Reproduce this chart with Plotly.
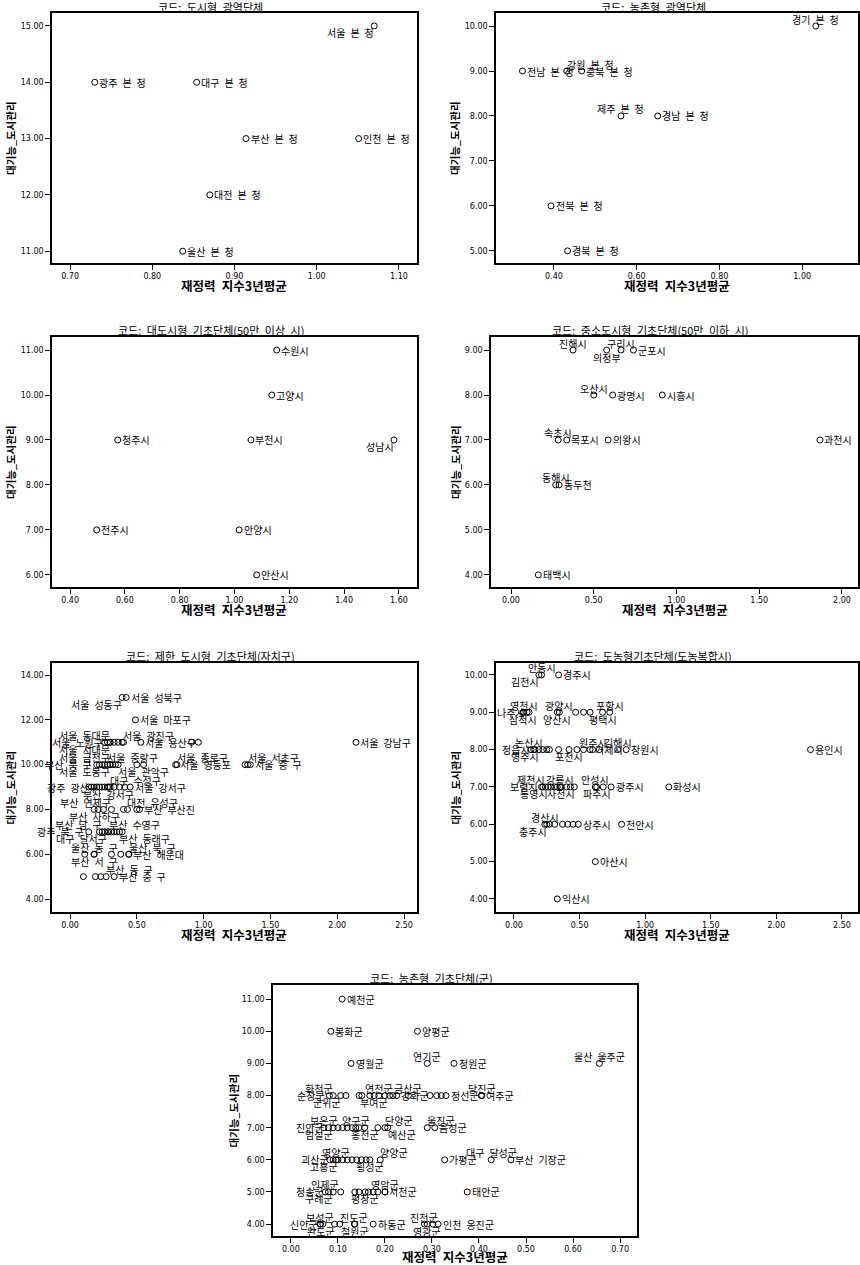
import plotly.graph_objects as go

W, H = 860, 1265

# ---------------- data: 재정력 지수3년평균 (x) vs 대기능_도시관리 (y) ----------------
# 도시형 광역단체
P1_X = [1.07, 0.73, 0.854, 0.914, 1.051, 0.870, 0.837]
P1_Y = [15, 14, 14, 13, 13, 12, 11]
P1_NAME = ["서울 본 청", "광주 본 청", "대구 본 청", "부산 본 청", "인천 본 청", "대전 본 청", "울산 본 청"]

# 농촌형 광역단체
P2_X = [1.033, 0.324, 0.431, 0.467, 0.562, 0.651, 0.393, 0.433]
P2_Y = [10, 9, 9, 9, 8, 8, 6, 5]
P2_NAME = ["경기 본 청", "전남 본 청", "강원 본 청", "충북 본 청", "제주 본 청", "경남 본 청", "전북 본 청", "경북 본 청"]

# 대도시형 기초단체(50만 이상 시)
P3_X = [1.154, 1.136, 0.574, 1.060, 1.582, 0.497, 1.017, 1.081]
P3_Y = [11, 10, 9, 9, 9, 7, 7, 6]
P3_NAME = ["수원시", "고양시", "청주시", "부천시", "성남시", "전주시", "안양시", "안산시"]

# 중소도시형 기초단체(50만 이하 시)
P4_X = [0.375, 0.578, 0.665, 0.74, 0.50, 0.614, 0.914, 0.285, 0.337, 0.587, 1.867, 0.27, 0.29, 0.165]
P4_Y = [9, 9, 9, 9, 8, 8, 8, 7, 7, 7, 7, 6, 6, 4]
P4_NAME = ["진해시", "의정부", "구리시", "군포시", "오산시", "광명시", "시흥시",
           "속초시", "목포시", "의왕시", "과천시", "동해시", "동두천", "태백시"]

# 제한 도시형 기초단체(자치구)
P5_X = [0.39, 0.42,
        0.49,
        0.26, 0.28, 0.30, 0.30, 0.33, 0.36, 0.39, 0.40, 0.53, 0.91, 0.96, 2.14,
        0.20, 0.22, 0.24, 0.26, 0.28, 0.30, 0.30, 0.32, 0.34, 0.36, 0.50, 0.55, 0.79, 0.80, 1.31, 1.33, 1.35,
        0.14, 0.16, 0.18, 0.20, 0.22, 0.24, 0.26, 0.28, 0.29, 0.30, 0.33, 0.37, 0.41, 0.45,
        0.18, 0.21, 0.25, 0.31, 0.40, 0.43, 0.50, 0.52,
        0.14, 0.22, 0.24, 0.26, 0.28, 0.29, 0.31, 0.33, 0.35, 0.37, 0.39,
        0.11, 0.18, 0.18, 0.31, 0.38, 0.44, 0.44,
        0.10, 0.19, 0.23, 0.27, 0.33]
P5_Y = [13, 13,
        12,
        11, 11, 11, 11, 11, 11, 11, 11, 11, 11, 11, 11,
        10, 10, 10, 10, 10, 10, 10, 10, 10, 10, 10, 10, 10, 10, 10, 10, 10,
        9, 9, 9, 9, 9, 9, 9, 9, 9, 9, 9, 9, 9, 9,
        8, 8, 8, 8, 8, 8, 8, 8,
        7, 7, 7, 7, 7, 7, 7, 7, 7, 7, 7,
        6, 6, 6, 6, 6, 6, 6,
        5, 5, 5, 5, 5]
P5_NAME = ["서울 성동구", "서울 성북구",
           "서울 마포구",
           "", "서울 노원구", "서울 동대문", "서울 서대문", "", "", "", "서울 광진구", "서울 용산구", "", "", "서울 강남구",
           "부산 북 구", "", "", "", "서울 중랑구", "서울 금천구", "서울 도봉구", "", "", "서울 관악구", "", "",
           "서울 영등포", "서울 종로구", "", "서울 서초구", "서울 중 구",
           "", "", "", "", "", "광주 광산구", "", "", "부산 강서구", "대구 수성구", "", "", "", "서울 강서구",
           "부산 사하구", "", "", "부산 연제구", "", "대전 유성구", "", "부산 부산진",
           "광주 북 구", "", "부산 남 구", "", "대구 달서구", "부산 수영구", "", "", "", "부산 동래구", "",
           "", "울산 동 구", "부산 서 구", "", "", "울산 북 구", "부산 해운대",
           "", "", "", "부산 동 구", "부산 중 구"]

# 도농형기초단체(도농복합시)
P6_X = [0.19, 0.21, 0.34,
        0.07, 0.075, 0.10, 0.115, 0.33, 0.345, 0.47, 0.53, 0.58, 0.675, 0.73,
        0.13, 0.15, 0.16, 0.19, 0.22, 0.25, 0.27, 0.34, 0.42, 0.48, 0.53, 0.58, 0.60, 0.65, 0.79, 0.855, 2.26,
        0.21, 0.22, 0.24, 0.26, 0.28, 0.31, 0.33, 0.35, 0.36, 0.40, 0.43, 0.46, 0.62, 0.63, 0.68, 0.74, 1.18,
        0.235, 0.25, 0.27, 0.31, 0.37, 0.41, 0.45, 0.49, 0.82,
        0.62,
        0.33]
P6_Y = [10, 10, 10,
        9, 9, 9, 9, 9, 9, 9, 9, 9, 9, 9,
        8, 8, 8, 8, 8, 8, 8, 8, 8, 8, 8, 8, 8, 8, 8, 8, 8,
        7, 7, 7, 7, 7, 7, 7, 7, 7, 7, 7, 7, 7, 7, 7, 7, 7,
        6, 6, 6, 6, 6, 6, 6, 6, 6,
        5,
        4]
P6_NAME = ["김천시", "안동시", "경주시",
           "삼척시", "영천시", "", "나주시", "양산시", "광양시", "", "", "", "평택시", "포항시",
           "", "", "정읍시", "영주시", "논산시", "", "", "", "포천시", "", "", "거제시", "원주시", "", "김해시", "창원시", "용인시",
           "", "보령시", "제천시", "통영시", "", "", "", "강릉시", "사천시", "", "", "", "안성시", "파주시", "", "광주시", "화성시",
           "경산시", "충주시", "", "", "", "", "", "상주시", "천안시",
           "아산시",
           "익산시"]

# 농촌형 기초단체(군)
P7_X = [0.109,
        0.085, 0.269,
        0.128, 0.29, 0.347, 0.656,
        0.082, 0.09, 0.106, 0.117, 0.145, 0.151, 0.168, 0.177, 0.187, 0.20, 0.21, 0.217, 0.225, 0.25,
        0.296, 0.31, 0.32, 0.33, 0.405, 0.406,
        0.07, 0.08, 0.09, 0.10, 0.11, 0.12, 0.13, 0.138, 0.145, 0.157, 0.185, 0.20, 0.206, 0.29, 0.306,
        0.083, 0.09, 0.096, 0.10, 0.11, 0.12, 0.13, 0.14, 0.15, 0.16, 0.168, 0.19, 0.327, 0.426, 0.468,
        0.073, 0.08, 0.09, 0.106, 0.136, 0.145, 0.158, 0.165, 0.175, 0.185, 0.20, 0.20, 0.375,
        0.062, 0.063, 0.068, 0.093, 0.104, 0.135, 0.136, 0.175, 0.284, 0.29, 0.302, 0.313]
P7_Y = [11,
        10, 10,
        9, 9, 9, 9,
        8, 8, 8, 8, 8, 8, 8, 8, 8, 8, 8, 8, 8, 8,
        8, 8, 8, 8, 8, 8,
        7, 7, 7, 7, 7, 7, 7, 7, 7, 7, 7, 7, 7, 7, 7,
        6, 6, 6, 6, 6, 6, 6, 6, 6, 6, 6, 6, 6, 6, 6,
        5, 5, 5, 5, 5, 5, 5, 5, 5, 5, 5, 5, 5,
        4, 4, 4, 4, 4, 4, 4, 4, 4, 4, 4, 4]
P7_NAME = ["예천군",
           "봉화군", "양평군",
           "영월군", "연기군", "청원군", "울산 울주군",
           "순창군", "화천군", "군위군", "", "", "", "", "부여군", "연천군", "", "", "", "강화군", "금산군",
           "", "", "", "정선군", "여주군", "당진군",
           "보은군", "진안군", "임실군", "", "", "", "", "양구군", "", "홍천군", "", "단양군", "예산군", "울진군", "음성군",
           "", "괴산군", "영양군", "고흥군", "", "", "", "", "", "", "횡성군", "양양군", "가평군", "대구 달성군", "부산 기장군",
           "인제군", "청송군", "구례군", "", "", "", "평창군", "", "", "", "영암군", "서천군", "태안군",
           "보성군", "완도군", "신안군", "", "", "진도군", "철원군", "하동군", "진천군", "영광군", "", "인천 옹진군"]

# ---------------- label placement around each marker ----------------
P1_POS = ["bl", "mr", "mr", "mr", "mr", "mr", "mr"]
P2_POS = ["tc", "mr", "tr", "mr", "tc", "mr", "mr", "mr"]
P3_POS = ["mr", "mr", "mr", "mr", "bl", "mr", "mr", "mr"]
P4_POS = ["tc", "bc", "tc", "mr", "tc", "mr", "mr", "tc", "mr", "mr", "mr", "tc", "mr", "mr"]
P5_POS = ["bl", "mr",
          "mr",
          "mr", "ml", "tl", "bl", "mr", "mr", "mr", "tr", "mr", "mr", "mr", "mr",
          "ml", "mr", "mr", "mr", "tr", "tl", "bl", "mr", "mr", "br", "mr", "mr", "mr", "tr", "mr", "tr", "mr",
          "mr", "mr", "mr", "mr", "mr", "ml", "mr", "mr", "bc", "tr", "mr", "mr", "mr", "mr",
          "bc", "mr", "mr", "tl", "mr", "tr", "mr", "mr",
          "ml", "mr", "tl", "mr", "bl", "tr", "mr", "mr", "mr", "br", "mr",
          "mr", "tc", "bc", "mr", "mr", "tr", "mr",
          "mr", "mr", "mr", "tr", "mr"]
P6_POS = ["bl", "tc", "mr",
          "bc", "tc", "mr", "ml", "bc", "tc", "mr", "mr", "mr", "bc", "tc",
          "mr", "mr", "ml", "bl", "tl", "mr", "mr", "mr", "bc", "mr", "mr", "mr", "tc", "mr", "tc", "mr", "mr",
          "mr", "ml", "tl", "bl", "mr", "mr", "mr", "tc", "bc", "mr", "mr", "mr", "tc", "bc", "mr", "mr", "mr",
          "tc", "bl", "mr", "mr", "mr", "mr", "mr", "mr", "mr",
          "mr",
          "mr"]
P7_POS = ["mr",
          "mr", "mr",
          "mr", "tc", "mr", "tc",
          "ml", "tl", "bl", "mr", "mr", "mr", "mr", "bc", "tc", "mr", "mr", "mr", "mr", "tc",
          "mr", "mr", "mr", "mr", "mr", "tc",
          "tc", "ml", "bl", "mr", "mr", "mr", "mr", "tc", "mr", "bc", "mr", "tr", "br", "tr", "mr",
          "mr", "ml", "tc", "bl", "mr", "mr", "mr", "mr", "mr", "mr", "bc", "tr", "mr", "tc", "mr",
          "tc", "ml", "bl", "mr", "mr", "mr", "bc", "mr", "mr", "mr", "tc", "mr", "mr",
          "tc", "bc", "ml", "mr", "mr", "tc", "bc", "mr", "tc", "bc", "mr", "mr"]

# anchor and pixel offset of a label for each placement code
LABEL_ANCHOR = {
    "mr": ("left", "middle", 3.5, 0), "ml": ("right", "middle", -3.5, 0),
    "tc": ("center", "middle", 0, 7), "bc": ("center", "middle", 0, -7),
    "tl": ("right", "middle", 1, 7), "tr": ("left", "middle", -1, 7),
    "bl": ("right", "middle", 1, -7), "br": ("left", "middle", -1, -7),
}

# ---------------- panel layout (pixel boxes, axis ranges, ticks) ----------------
PANELS = [
    dict(title="코드: 도시형 광역단체", x=P1_X, y=P1_Y, text=P1_NAME, pos=P1_POS,
         box=(52, 417, 13, 263), xr=(0.678, 1.122), yr=(10.79, 15.23),
         xt=[0.7, 0.8, 0.9, 1.0, 1.1], yt=[11, 12, 13, 14, 15], ytx=10),
    dict(title="코드: 농촌형 광역단체", x=P2_X, y=P2_Y, text=P2_NAME, pos=P2_POS,
         box=(496, 858, 13, 263), xr=(0.260, 1.135), yr=(4.73, 10.29),
         xt=[0.4, 0.6, 0.8, 1.0], yt=[5, 6, 7, 8, 9, 10], ytx=454),
    dict(title="코드: 대도시형 기초단체(50만 이상 시)", x=P3_X, y=P3_Y, text=P3_NAME, pos=P3_POS,
         box=(52, 417, 337, 587), xr=(0.334, 1.666), yr=(5.73, 11.29),
         xt=[0.4, 0.6, 0.8, 1.0, 1.2, 1.4, 1.6], yt=[6, 7, 8, 9, 10, 11], ytx=10),
    dict(title="코드: 중소도시형 기초단체(50만 이하 시)", x=P4_X, y=P4_Y, text=P4_NAME, pos=P4_POS,
         box=(491, 858, 337, 587), xr=(-0.121, 2.097), yr=(3.73, 9.29),
         xt=[0.0, 0.5, 1.0, 1.5, 2.0], yt=[4, 5, 6, 7, 8, 9], ytx=455),
    dict(title="코드: 제한 도시형 기초단체(자치구)", x=P5_X, y=P5_Y, text=P5_NAME, pos=P5_POS,
         box=(52, 417, 663, 912), xr=(-0.135, 2.597), yr=(3.42, 14.54),
         xt=[0.0, 0.5, 1.0, 1.5, 2.0, 2.5], yt=[4, 6, 8, 10, 12, 14], ytx=10),
    dict(title="코드: 도농형기초단체(도농복합시)", x=P6_X, y=P6_Y, text=P6_NAME, pos=P6_POS,
         box=(496, 858, 663, 912), xr=(-0.137, 2.622), yr=(3.65, 10.32),
         xt=[0.0, 0.5, 1.0, 1.5, 2.0, 2.5], yt=[4, 5, 6, 7, 8, 9, 10], ytx=455),
    dict(title="코드: 농촌형 기초단체(군)", x=P7_X, y=P7_Y, text=P7_NAME, pos=P7_POS,
         box=(273, 637, 985, 1236), xr=(-0.038, 0.736), yr=(3.63, 11.44),
         xt=[0.0, 0.1, 0.2, 0.3, 0.4, 0.5, 0.6, 0.7], yt=[4, 5, 6, 7, 8, 9, 10, 11], ytx=233),
]

KFONT = "Noto Sans CJK KR"
WIDE = "\u2002"   # half-em word gap, as in the bitmap Hangul face


def spaced(s):
    return s.replace(" ", WIDE)


fig = go.Figure()
layout = dict(width=W, height=H, autosize=False, margin=dict(l=0, r=0, t=0, b=0),
              paper_bgcolor="white", plot_bgcolor="white", showlegend=False)
annotations = []

for i, p in enumerate(PANELS):
    n = "" if i == 0 else str(i + 1)
    x0, x1, y0, y1 = p["box"]
    axis_common = dict(showline=True, mirror=True, linecolor="black", linewidth=1.5,
                       ticks="outside", ticklen=5, tickwidth=1, tickcolor="black",
                       tickfont=dict(family="DejaVu Sans", size=8, color="black"),
                       tickformat=".2f", showgrid=False, zeroline=False)
    layout["xaxis" + n] = dict(axis_common, domain=[x0 / W, x1 / W], range=list(p["xr"]),
                               tickvals=p["xt"], anchor="y" + n)
    layout["yaxis" + n] = dict(axis_common, domain=[1 - y1 / H, 1 - y0 / H], range=list(p["yr"]),
                               tickvals=p["yt"], anchor="x" + n)

    fig.add_trace(go.Scatter(
        x=p["x"], y=p["y"], mode="markers",
        marker=dict(symbol="circle-open", size=6, color="black", line=dict(width=1)),
        xaxis="x" + n, yaxis="y" + n, cliponaxis=False, hoverinfo="skip"))

    # case labels placed around their markers
    for xv, yv, name, code in zip(p["x"], p["y"], p["text"], p["pos"]):
        if not name:
            continue
        xa, ya, dx, dy = LABEL_ANCHOR[code]
        annotations.append(dict(text=spaced(name), x=xv, y=yv, xref="x" + n, yref="y" + n,
                                xanchor=xa, yanchor=ya, xshift=dx, yshift=dy,
                                showarrow=False, borderpad=0,
                                font=dict(family=KFONT, size=10, color="black")))

    # panel title
    ty = max(y0 - 7, 7.5)
    annotations.append(dict(text=spaced(p["title"]), xref="paper", yref="paper",
                            x=((x0 + x1) / 2 - 24) / W, y=1 - ty / H,
                            xanchor="center", yanchor="middle", showarrow=False, borderpad=0,
                            font=dict(family=KFONT, size=11, color="black")))
    # x-axis title
    xy = min(y1 + 22, H - 9)
    annotations.append(dict(text="<b>" + spaced("재정력 지수3년평균") + "</b>", xref="paper", yref="paper",
                            x=(x0 + x1) / 2 / W, y=1 - xy / H,
                            xanchor="center", yanchor="middle", showarrow=False, borderpad=0,
                            font=dict(family=KFONT, size=12.5, color="black")))
    # y-axis title
    annotations.append(dict(text="<b>대기능_도시관리</b>", xref="paper", yref="paper",
                            x=p["ytx"] / W, y=1 - (y0 + y1) / 2 / H, textangle=-90,
                            xanchor="center", yanchor="middle", showarrow=False, borderpad=0,
                            font=dict(family=KFONT, size=10.5, color="black")))

layout["annotations"] = annotations
fig.update_layout(**layout)
fig.write_html("out.html")
